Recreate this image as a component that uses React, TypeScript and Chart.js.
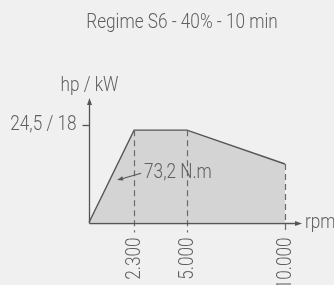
import React, { useEffect, useRef } from "react";
import { Chart, registerables } from "chart.js";

Chart.register(...registerables);

// ---- data ----
const TITLE = "Regime S6 - 40% - 10 min";
const Y_TITLE = "hp / kW";
const X_TITLE = "rpm";
const RPM = [0, 2300, 5000, 10000];
const POWER_HP = [0, 23.2, 23.2, 14.7];
const X_TICKS = [2300, 5000, 10000];
const X_TICK_LABELS = ["2.300", "5.000", "10.000"];
const Y_TICK = 24.5;
const Y_TICK_LABEL = "24,5 / 18";
const TORQUE_LABEL = "73,2 N.m";
const TORQUE_AT_RPM = 2300;
const TORQUE_AT_HP = 11.1;

const FONT = '300 20px Roboto, "Liberation Sans", sans-serif';
const SX = 0.86; // condensed look
const TEXT = "#5f5f5f";
const LINE = "#555555";
const DASH = "#6a6a6a";

function arrowHead(ctx: CanvasRenderingContext2D, x: number, y: number, ang: number, len: number, half: number) {
  ctx.save();
  ctx.translate(x, y);
  ctx.rotate(ang);
  ctx.beginPath();
  ctx.moveTo(0, 0);
  ctx.lineTo(-len, -half);
  ctx.lineTo(-len, half);
  ctx.closePath();
  ctx.fill();
  ctx.restore();
}

function text(ctx: CanvasRenderingContext2D, s: string, x: number, y: number, align: CanvasTextAlign, rot = 0, baseline: CanvasTextBaseline = "alphabetic") {
  ctx.save();
  ctx.translate(x, y);
  if (rot) ctx.rotate(rot);
  ctx.scale(SX, 1);
  ctx.textAlign = align;
  ctx.textBaseline = baseline;
  ctx.fillText(s, 0, 0);
  ctx.restore();
}

const overlay = {
  id: "overlay",
  afterDatasetsDraw(chart: any) {
    const ctx: CanvasRenderingContext2D = chart.ctx;
    const xs = chart.scales.x;
    const ys = chart.scales.y;
    const x0 = Math.round(xs.getPixelForValue(0)) + 0.5;
    const y0 = Math.round(ys.getPixelForValue(0)) + 0.5;
    ctx.save();

    // dashed drop lines
    ctx.strokeStyle = DASH;
    ctx.lineWidth = 1.2;
    ctx.setLineDash([6, 4]);
    X_TICKS.forEach((v) => {
      const i = RPM.indexOf(v);
      const px = Math.round(xs.getPixelForValue(v)) + 0.5;
      const py = ys.getPixelForValue(POWER_HP[i]);
      ctx.beginPath();
      ctx.moveTo(px, py);
      ctx.lineTo(px, y0 + 9);
      ctx.stroke();
    });
    ctx.setLineDash([]);

    // axes
    ctx.strokeStyle = LINE;
    ctx.fillStyle = LINE;
    ctx.lineWidth = 1.3;
    const yTop = ys.getPixelForValue(Y_TICK) - 27;
    ctx.beginPath();
    ctx.moveTo(x0, y0);
    ctx.lineTo(x0, yTop + 5);
    ctx.stroke();
    arrowHead(ctx, x0, yTop, -Math.PI / 2, 7, 2.5);
    const xRight = xs.getPixelForValue(10000) + 17;
    ctx.beginPath();
    ctx.moveTo(x0, y0);
    ctx.lineTo(xRight - 5, y0);
    ctx.stroke();
    arrowHead(ctx, xRight, y0, 0, 7, 2.5);

    // y tick
    const yt = Math.round(ys.getPixelForValue(Y_TICK)) + 0.5;
    ctx.beginPath();
    ctx.moveTo(x0 - 7, yt);
    ctx.lineTo(x0, yt);
    ctx.stroke();

    // texts
    ctx.fillStyle = TEXT;
    ctx.font = FONT;
    text(ctx, TITLE, 182, 28, "center");
    text(ctx, Y_TITLE, x0, yTop - 7, "center");
    text(ctx, Y_TICK_LABEL, x0 - 13, yt + 4, "right");
    text(ctx, X_TITLE, xRight + 3, y0 + 4, "left");

    // rotated x tick labels
    X_TICKS.forEach((v, i) => {
      const px = xs.getPixelForValue(v);
      text(ctx, X_TICK_LABELS[i], px + 1, y0 + 14, "right", -Math.PI / 2, "middle");
    });

    // torque annotation
    const ax = xs.getPixelForValue(TORQUE_AT_RPM);
    const ay = ys.getPixelForValue(TORQUE_AT_HP);
    text(ctx, TORQUE_LABEL, ax + 10, ay, "left");
    ctx.strokeStyle = LINE;
    ctx.fillStyle = LINE;
    ctx.lineWidth = 1.1;
    const sx = ax + 7, sy = ay - 5;
    const tx = ax - 17, ty = ay + 1.7;
    ctx.beginPath();
    ctx.moveTo(sx, sy);
    ctx.lineTo(tx + 4, ty - 1.1);
    ctx.stroke();
    arrowHead(ctx, tx, ty, Math.atan2(ty - sy, tx - sx), 6, 2.2);

    ctx.restore();
  },
};

export default function App() {
  const ref = useRef<HTMLCanvasElement | null>(null);
  useEffect(() => {
    if (!ref.current) return;
    const chart = new Chart(ref.current, {
      type: "line",
      data: {
        datasets: [
          {
            data: RPM.map((x, i) => ({ x, y: POWER_HP[i] })),
            fill: "origin",
            backgroundColor: "#d4d4d4",
            borderColor: LINE,
            borderWidth: 1.4,
            pointRadius: 0,
            tension: 0,
            clip: false as any,
          },
        ],
      },
      options: {
        animation: false,
        responsive: false,
        events: [],
        layout: { padding: { left: 89, right: 49, top: 125, bottom: 62.5 } },
        plugins: { legend: { display: false }, tooltip: { enabled: false }, title: { display: false } },
        scales: {
          x: { type: "linear", min: 0, max: 10000, display: false },
          y: { type: "linear", min: 0, max: Y_TICK, display: false },
        },
      },
      plugins: [overlay],
    });
    return () => chart.destroy();
  }, []);
  return (
    <div style={{ position: "fixed", left: 0, top: 0, width: 334, height: 285, background: "#f0f0f0", overflow: "hidden" }}>
      <canvas ref={ref} width={334} height={285} style={{ display: "block" }} />
    </div>
  );
}
